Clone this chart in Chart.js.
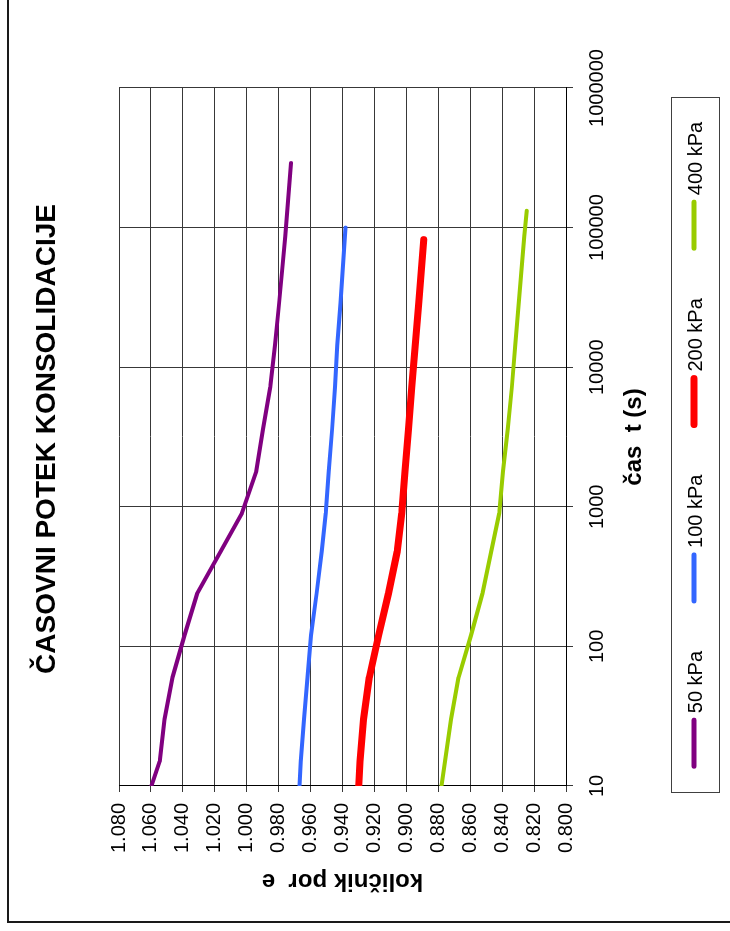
<!DOCTYPE html>
<html>
<head>
<meta charset="utf-8">
<script src="https://cdn.jsdelivr.net/npm/chart.js@4.4.1/dist/chart.umd.min.js"></script>
<style>
  html, body { margin: 0; padding: 0; background: #fff; overflow: hidden; width: 730px; height: 931px; }
  /* the chart is laid out landscape and turned a quarter turn counter-clockwise */
  #sheet { position: absolute; left: 0; top: 0; width: 931px; height: 730px;
           transform-origin: 0 0; transform: translateY(931px) rotate(-90deg); }
  canvas { display: block; }
</style>
</head>
<body>
<div id="sheet"><canvas id="chart" width="931" height="730"></canvas></div>
<script>
// time axis (s), logarithmic, one tick per decade
const timeTicks = [10, 100, 1000, 10000, 100000, 1000000];
// void ratio axis
const ratioTicks = [0.80, 0.82, 0.84, 0.86, 0.88, 0.90, 0.92, 0.94, 0.96, 0.98, 1.00, 1.02, 1.04, 1.06, 1.08];

const seriesLabels = ['50 kPa', '100 kPa', '200 kPa', '400 kPa'];

// 50 kPa load step
const t50 = [10, 15, 30, 60, 120, 240, 480, 900, 1800, 3600, 7200, 14400, 28800, 86400, 290000];
const e50 = [1.0597, 1.0545, 1.0515, 1.0465, 1.0390, 1.0310, 1.0163, 1.0030, 0.9940, 0.9898, 0.9852, 0.9823, 0.9797, 0.9758, 0.9722];

// 100 kPa load step
const t100 = [10, 15, 30, 60, 120, 240, 480, 900, 1800, 3600, 7200, 14400, 28800, 100000];
const e100 = [0.9670, 0.9661, 0.9641, 0.9619, 0.9597, 0.9562, 0.9530, 0.9505, 0.9486, 0.9465, 0.9447, 0.9433, 0.9413, 0.9381];

// 200 kPa load step
const t200 = [10, 15, 30, 60, 120, 240, 480, 900, 1800, 3600, 7200, 14400, 28800, 82000];
const e200 = [0.9299, 0.9290, 0.9269, 0.9232, 0.9174, 0.9112, 0.9057, 0.9029, 0.9008, 0.8987, 0.8966, 0.8944, 0.8922, 0.8891];

// 400 kPa load step
const t400 = [10, 15, 30, 60, 120, 240, 480, 900, 1800, 3600, 7200, 14400, 28800, 86400, 132000];
const e400 = [0.8780, 0.8758, 0.8720, 0.8673, 0.8595, 0.8523, 0.8468, 0.8418, 0.8394, 0.8365, 0.8339, 0.8318, 0.8296, 0.8262, 0.8246];

const FONT = "'Liberation Sans', Arial, Helvetica, sans-serif";
Chart.defaults.font.family = FONT;
Chart.defaults.color = '#000';

function series(label, t, e, color, width) {
  return {
    label,
    data: t.map((x, i) => ({ x, y: e[i] })),
    borderColor: color,
    backgroundColor: color,
    borderWidth: width,
    pointRadius: 0,
    pointHoverRadius: 0,
    tension: 0,
    fill: false,
    borderCapStyle: 'round',
    borderJoinStyle: 'round'
  };
}

// outer frame of the chart sheet
const sheetFrame = {
  id: 'sheetFrame',
  beforeDraw(chart) {
    const c = chart.ctx;
    c.save();
    c.strokeStyle = '#1a1a1a';
    c.lineWidth = 2;
    c.beginPath();
    c.moveTo(chart.width, 8);
    c.lineTo(9, 8);
    c.lineTo(9, chart.height);
    c.stroke();
    c.restore();
  }
};

// heading centred over the plot area
const heading = {
  id: 'heading',
  afterDraw(chart, args, opts) {
    const c = chart.ctx, a = chart.chartArea;
    c.save();
    c.font = 'bold 28px ' + FONT;
    c.fillStyle = '#000';
    c.textAlign = 'center';
    c.textBaseline = 'middle';
    c.fillText(opts.text, (a.left + a.right) / 2 - 2, 47);
    c.restore();
  }
};

// boxed legend in one row under the axis title
const boxLegend = {
  id: 'boxLegend',
  afterDraw(chart, args, opts) {
    const c = chart.ctx;
    const sets = chart.data.datasets;
    const sample = 52, gap = 4, spacing = 47;
    c.save();
    c.font = '20px ' + FONT;
    const widths = sets.map(d => sample + gap + c.measureText(d.label).width);
    const total = widths.reduce((s, w) => s + w, 0) + spacing * (sets.length - 1);
    const cx = opts.centerX, cy = opts.centerY;
    // box
    c.strokeStyle = '#404040';
    c.lineWidth = 1;
    c.strokeRect(Math.round(cx - opts.boxWidth / 2) + 0.5, Math.round(cy - opts.boxHeight / 2) + 0.5, opts.boxWidth, opts.boxHeight);
    let x = cx - total / 2;
    sets.forEach((d, i) => {
      c.strokeStyle = d.borderColor;
      c.lineWidth = Math.max(d.borderWidth, 5);
      c.lineCap = 'round';
      c.beginPath();
      c.moveTo(x + 3, cy - 1);
      c.lineTo(x + sample - 3, cy - 1);
      c.stroke();
      c.fillStyle = '#000';
      c.textAlign = 'left';
      c.textBaseline = 'middle';
      c.fillText(d.label, x + sample + gap, cy + 1);
      x += widths[i] + spacing;
    });
    c.restore();
  }
};

new Chart(document.getElementById('chart'), {
  type: 'line',
  data: {
    datasets: [
      series(seriesLabels[0], t50, e50, '#800080', 4),
      series(seriesLabels[1], t100, e100, '#3366FF', 4),
      series(seriesLabels[2], t200, e200, '#FF0000', 7),
      series(seriesLabels[3], t400, e400, '#99CC00', 4)
    ]
  },
  options: {
    responsive: false,
    animation: false,
    devicePixelRatio: 1,
    layout: { padding: { top: 119, left: 13, right: 88, bottom: 64 } },
    plugins: {
      legend: { display: false },
      title: { display: false },
      tooltip: { enabled: false },
      heading: { text: 'ČASOVNI POTEK KONSOLIDACIJE' },
      boxLegend: { centerX: 485.5, centerY: 695, boxWidth: 695, boxHeight: 48 }
    },
    scales: {
      x: {
        type: 'logarithmic',
        position: 'bottom',
        min: timeTicks[0],
        max: timeTicks[timeTicks.length - 1],
        afterBuildTicks(scale) { scale.ticks = timeTicks.map(v => ({ value: v, major: true })); },
        afterFit(scale) { scale.height = 100; },
        ticks: {
          autoSkip: false,
          maxRotation: 0,
          padding: 12,
          font: { size: 20 },
          color: '#000',
          callback: v => String(v)
        },
        grid: { color: '#383838', lineWidth: 1, tickLength: 7 },
        border: { display: true, color: '#000', width: 1 },
        title: {
          display: true,
          text: 'čas  t (s)',
          font: { size: 24, weight: 'bold' },
          color: '#000',
          padding: { top: 0, bottom: 17 }
        }
      },
      y: {
        type: 'linear',
        position: 'left',
        min: ratioTicks[0],
        max: ratioTicks[ratioTicks.length - 1],
        afterBuildTicks(scale) { scale.ticks = ratioTicks.map(v => ({ value: v })); },
        afterFit(scale) { scale.width = 132; },
        ticks: {
          autoSkip: false,
          padding: 11,
          font: { size: 20 },
          color: '#000',
          callback: v => Number(v).toFixed(3)
        },
        grid: { color: '#383838', lineWidth: 1, tickLength: 6 },
        border: { display: true, color: '#000', width: 1 },
        title: {
          display: true,
          text: 'količnik por  e',
          font: { size: 24, weight: 'bold' },
          color: '#000',
          padding: { top: 23, bottom: 0 }
        }
      }
    }
  },
  plugins: [sheetFrame, heading, boxLegend]
});
</script>
</body>
</html>
